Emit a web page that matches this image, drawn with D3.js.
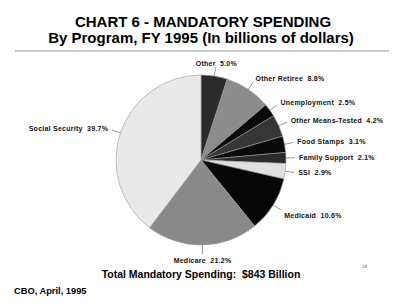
<!DOCTYPE html>
<html>
<head>
<meta charset="utf-8">
<script src="https://cdn.jsdelivr.net/npm/d3@7"></script>
<style>
  html, body { margin: 0; padding: 0; background: #fff; }
  svg { display: block; font-family: "Liberation Sans", Arial, sans-serif; }
</style>
</head>
<body>
<div id="chart"></div>
<script>
const programs = ["Other", "Other Retiree", "Unemployment", "Other Means-Tested", "Food Stamps",
  "Family Support", "SSI", "Medicaid", "Medicare", "Social Security"];
const shares = [5.0, 8.8, 2.5, 4.2, 3.1, 2.1, 2.9, 10.6, 21.2, 39.7];
const fills = ["#2b2b2b", "#8c8c8c", "#0a0a0a", "#363636", "#0a0a0a",
  "#2b2b2b", "#e0e0e0", "#060606", "#898989", "#e9e9e9"];

const width = 400, height = 306;
const cx = 201, cy = 160, radius = 85;

const svg = d3.select("#chart").append("svg")
  .attr("width", width)
  .attr("height", height);

// titles
svg.append("text")
  .attr("x", 203).attr("y", 27)
  .attr("text-anchor", "middle")
  .attr("font-size", 15).attr("font-weight", "bold")
  .text("CHART 6 - MANDATORY SPENDING");
svg.append("text")
  .attr("x", 201).attr("y", 43)
  .attr("text-anchor", "middle")
  .attr("font-size", 15).attr("font-weight", "bold")
  .text("By Program, FY 1995 (In billions of dollars)");
svg.append("line")
  .attr("x1", 15).attr("x2", 389).attr("y1", 51).attr("y2", 51)
  .attr("stroke", "#999").attr("stroke-width", 1);

const data = programs.map((p, i) => ({ name: p, value: shares[i], fill: fills[i] }));

const pie = d3.pie().value(d => d.value).sort(null);
const arcs = pie(data);

const arc = d3.arc().innerRadius(0).outerRadius(radius);
const edgeArc = d3.arc().innerRadius(radius).outerRadius(radius);
const tickArc = d3.arc().innerRadius(radius + 9).outerRadius(radius + 9);
const labelArc = d3.arc().innerRadius(radius + 13).outerRadius(radius + 13);

const g = svg.append("g").attr("transform", `translate(${cx}, ${cy})`);

g.selectAll("path")
  .data(arcs)
  .join("path")
  .attr("d", arc)
  .attr("fill", d => d.data.fill)
  .attr("stroke", "#9a9a9a")
  .attr("stroke-width", 0.6);

g.selectAll(".leader")
  .data(arcs)
  .join("line")
  .attr("class", "leader")
  .attr("x1", d => edgeArc.centroid(d)[0])
  .attr("y1", d => edgeArc.centroid(d)[1])
  .attr("x2", d => tickArc.centroid(d)[0])
  .attr("y2", d => tickArc.centroid(d)[1])
  .attr("stroke", "#555")
  .attr("stroke-width", 0.6);

function midAngle(d) { return (d.startAngle + d.endAngle) / 2; }

g.selectAll(".slice-label")
  .data(arcs)
  .join("text")
  .attr("class", "slice-label")
  .attr("x", d => labelArc.centroid(d)[0])
  .attr("y", d => labelArc.centroid(d)[1])
  .attr("dy", d => {
    const a = midAngle(d);
    if (a > Math.PI * 0.55 && a < Math.PI * 0.8) return "0.9em";
    if (a > Math.PI * 0.8 && a < Math.PI * 1.2) return "0.7em";
    return "0.35em";
  })
  .attr("text-anchor", d => {
    const a = midAngle(d);
    if (a < 0.3 || Math.abs(a - Math.PI) < 0.3) return "middle";
    return a < Math.PI ? "start" : "end";
  })
  .attr("font-size", 7)
  .attr("font-weight", "bold")
  .attr("letter-spacing", 0.25)
  .attr("fill", "#111")
  .attr("xml:space", "preserve")
  .text(d => `${d.data.name}  ${d.data.value.toFixed(1)}%`);

svg.append("text")
  .attr("x", 201).attr("y", 278)
  .attr("text-anchor", "middle")
  .attr("font-size", 10.5).attr("font-weight", "bold")
  .attr("xml:space", "preserve")
  .text("Total Mandatory Spending:  $843 Billion");

svg.append("text")
  .attr("x", 14).attr("y", 294)
  .attr("font-size", 9.3).attr("font-weight", "bold")
  .text("CBO, April, 1995");

svg.append("text")
  .attr("x", 362).attr("y", 268)
  .attr("font-size", 5)
  .attr("font-family", "Liberation Serif, serif")
  .attr("fill", "#444")
  .text("18");
</script>
</body>
</html>
